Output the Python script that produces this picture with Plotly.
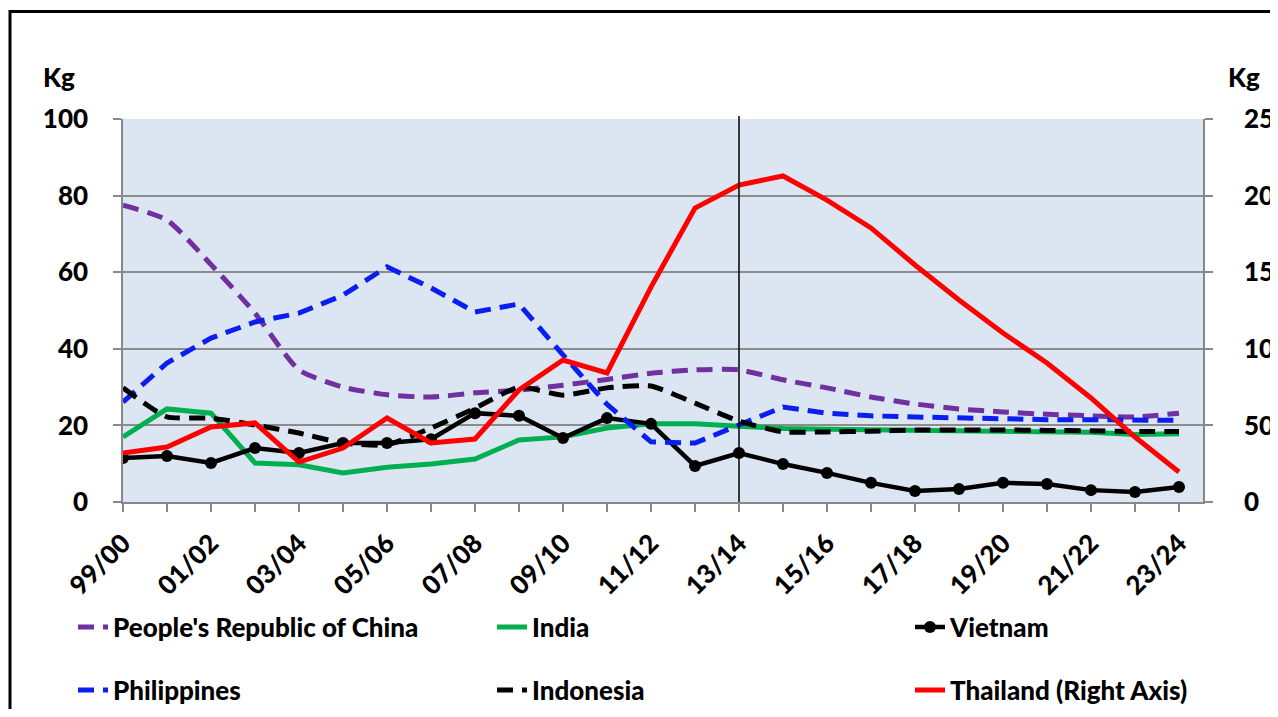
import plotly.graph_objects as go

seasons = ["99/00", "00/01", "01/02", "02/03", "03/04", "04/05", "05/06", "06/07",
           "07/08", "08/09", "09/10", "10/11", "11/12", "12/13", "13/14", "14/15",
           "15/16", "16/17", "17/18", "18/19", "19/20", "20/21", "21/22", "22/23", "23/24"]

china = [77.5, 73.6, 62.0, 49.3, 34.5, 30.0, 28.0, 27.4, 28.5, 29.2, 30.5, 32.0, 33.6,
         34.5, 34.5, 31.9, 29.8, 27.4, 25.6, 24.3, 23.5, 22.9, 22.5, 22.2, 23.2]
india = [17.0, 24.3, 23.2, 10.2, 9.7, 7.6, 9.1, 9.9, 11.2, 16.2, 17.0, 19.3, 20.4,
         20.4, 19.8, 19.2, 19.0, 18.9, 18.8, 18.7, 18.5, 18.4, 18.2, 17.6, 17.8]
vietnam = [11.5, 12.0, 10.2, 14.1, 12.8, 15.4, 15.4, 16.4, 23.2, 22.5, 16.7, 21.9, 20.4,
           9.4, 12.8, 9.9, 7.6, 5.0, 2.9, 3.4, 5.0, 4.7, 3.1, 2.6, 3.9]
philippines = [26.1, 36.3, 42.8, 47.0, 49.3, 54.0, 61.4, 55.9, 49.6, 51.7, 38.4, 25.5, 15.7,
               15.4, 20.1, 24.8, 23.2, 22.5, 22.2, 21.9, 21.7, 21.5, 21.5, 21.3, 21.3]
indonesia = [29.8, 22.2, 21.9, 20.1, 18.0, 15.4, 14.9, 19.3, 24.5, 30.0, 27.9, 29.8, 30.3,
             25.8, 21.1, 18.3, 18.3, 18.5, 18.8, 18.8, 18.8, 18.7, 18.6, 18.4, 18.4]
thailand = [32.0, 35.9, 49.0, 51.6, 26.1, 35.2, 54.8, 38.5, 41.1, 73.1, 92.7, 84.2, 140.3,
            191.9, 206.9, 212.8, 197.1, 178.9, 154.7, 131.9, 110.3, 90.7, 67.9, 42.4, 19.6]

left_ticks = [0, 20, 40, 60, 80, 100]
right_ticks = [0, 50, 100, 150, 200, 250]
divider_season = "13/14"
unit_label = "Kg"

x_idx = list(range(len(seasons)))
tick_text = [s if i % 2 == 0 else "" for i, s in enumerate(seasons)]

FONT = "Lato"
OFF = 8  # page body margin
W, H = 1262, 701
L, R, T, B = 115, 1195, 111, 494
pw, ph = R - L, B - T


def sx(p):
    """screen x pixel -> paper"""
    return (p - OFF - L) / pw


def sy(p):
    """screen y pixel -> paper"""
    return (B - (p - OFF)) / ph


fig = go.Figure()
DASH = "16px,9px"
fig.add_trace(go.Scatter(x=x_idx, y=china, name="People's Republic of China", mode="lines",
                         line=dict(color="#7030A0", width=5, dash=DASH, shape="spline", smoothing=0.6),
                         legend="legend"))
fig.add_trace(go.Scatter(x=x_idx, y=india, name="India", mode="lines",
                         line=dict(color="#00B050", width=5), legend="legend2"))
fig.add_trace(go.Scatter(x=x_idx, y=vietnam, name="Vietnam", mode="lines+markers",
                         line=dict(color="#000000", width=4.5),
                         marker=dict(color="#000000", size=12), legend="legend3"))
fig.add_trace(go.Scatter(x=x_idx, y=philippines, name="Philippines", mode="lines",
                         line=dict(color="#0A1EF0", width=5, dash=DASH), legend="legend4"))
fig.add_trace(go.Scatter(x=x_idx, y=indonesia, name="Indonesia", mode="lines",
                         line=dict(color="#000000", width=5, dash=DASH, shape="spline", smoothing=0.5),
                         legend="legend5"))
fig.add_trace(go.Scatter(x=x_idx, y=thailand, name="Thailand (Right Axis)", mode="lines",
                         line=dict(color="#FF0000", width=5), yaxis="y2", legend="legend6"))

axis_font = dict(family=FONT, size=26, color="#000000", weight=900)
legend_font = dict(family=FONT, size=26, color="#000000", weight=900)

legend_cols = [73, 492, 910]   # screen x of legend box left
legend_rows = [627, 690]       # screen y of row centres
legends = {}
k = 0
for r in legend_rows:
    for c in legend_cols:
        k += 1
        key = "legend" if k == 1 else f"legend{k}"
        legends[key] = dict(x=sx(c), xanchor="left", y=sy(r), yanchor="middle",
                            font=legend_font, bgcolor="rgba(0,0,0,0)", borderwidth=0)

fig.update_layout(
    width=W, height=H,
    margin=dict(l=L, r=W - R, t=T, b=H - B, autoexpand=False),
    paper_bgcolor="#FFFFFF",
    plot_bgcolor="#DCE6F2",
    showlegend=True,
    xaxis=dict(
        range=[0, (R - L) / 44.0], tickmode="array", tickvals=x_idx, ticktext=tick_text,
        tickangle=-45, ticks="outside", ticklen=8, tickcolor="#888888", tickwidth=1.5,
        showline=True, linecolor="#888888", linewidth=1.5, showgrid=False, zeroline=False,
        tickfont=dict(family=FONT, size=26, color="#000000", weight=900), automargin=False,
        ticklabelstandoff=6,
    ),
    yaxis=dict(
        range=[0, 100], tickmode="array", tickvals=left_ticks, ticks="outside", ticklen=8,
        tickcolor="#888888", tickwidth=1.5, showline=True, linecolor="#888888", linewidth=1.5,
        showgrid=True, gridcolor="#8C8C8C", gridwidth=1.5, zeroline=False, tickfont=axis_font,
        ticklabelstandoff=20, automargin=False,
    ),
    yaxis2=dict(
        range=[0, 250], tickmode="array", tickvals=right_ticks, overlaying="y", side="right",
        ticks="outside", ticklen=8, tickcolor="#888888", tickwidth=1.5, showline=True,
        linecolor="#888888", linewidth=1.5, showgrid=False, zeroline=False, tickfont=axis_font,
        ticklabelstandoff=26, ticklabeloverflow="allow", automargin=False,
    ),
    **legends,
)

# divider at projection start
fig.add_shape(type="line", xref="x", yref="paper", x0=seasons.index(divider_season),
              x1=seasons.index(divider_season), y0=0, y1=sy(116),
              line=dict(color="#000000", width=1.5), layer="above")

# outer frame
fig.add_shape(type="rect", xref="paper", yref="paper",
              x0=sx(10), x1=sx(1320), y0=sy(11.5), y1=sy(760),
              line=dict(color="#000000", width=3), fillcolor="rgba(0,0,0,0)", layer="above")

fig.add_annotation(text=unit_label, xref="paper", yref="paper", x=sx(59), y=sy(77),
                   showarrow=False, font=axis_font, xanchor="center", yanchor="middle")
fig.add_annotation(text=unit_label, xref="paper", yref="paper", x=sx(1244), y=sy(77),
                   showarrow=False, font=axis_font, xanchor="center", yanchor="middle")

fig.write_html("out.html")
